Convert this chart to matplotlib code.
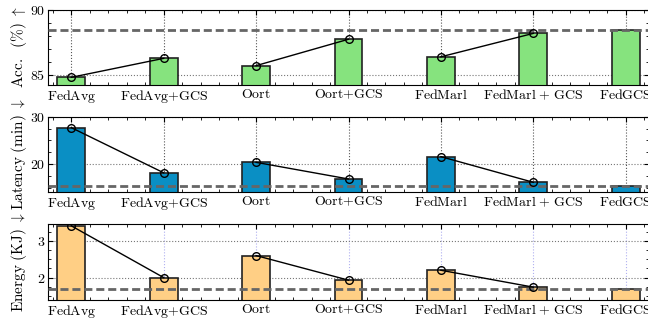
import matplotlib
matplotlib.use("Agg")
import matplotlib.pyplot as plt
from matplotlib.ticker import AutoMinorLocator, MultipleLocator
import numpy as np

plt.rcParams["font.family"] = "serif"
plt.rcParams["font.serif"] = ["cmr10"]
plt.rcParams["mathtext.fontset"] = "cm"
plt.rcParams["axes.formatter.use_mathtext"] = True

methods = ["FedAvg", "FedAvg+GCS", "Oort", "Oort+GCS", "FedMarl", "FedMarl + GCS", "FedGCS"]
acc = [84.82, 86.28, 85.72, 87.75, 86.4, 88.2, 88.46]
latency = [27.7, 18.2, 20.4, 16.9, 21.6, 16.2, 15.44]
energy = [3.41, 2.0, 2.6, 1.93, 2.2, 1.74, 1.70]

# baseline pairs joined by a line (without GCS -> with GCS)
pairs = [(0, 1), (2, 3), (4, 5)]

panels = [
    (acc, r"$\mathrm{Acc.\ \ (\%)}\ \uparrow$", "#86e37e", (84.23, 90), 5, "#555555"),
    (latency, r"$\mathrm{Latency\ (min)}\ \downarrow$", "#0a8fc4", (14.1, 30), 10, "#555555"),
    (energy, r"$\mathrm{Energy\ (KJ)}\ \downarrow$", "#ffcf85", (1.39, 3.46), 1, "#b0b0f0"),
]


def tex(s):
    # render names in computer modern via mathtext
    return r"$\mathrm{%s}$" % s.replace(" + ", r"\ +\ ").replace("+", "{+}")


W, H = 648, 318
fig = plt.figure(figsize=(W / 100, H / 100), dpi=100)
tops = [10, 116.7, 224]
heights = [75, 75.6, 76]
x = np.arange(len(methods))

for (vals, label, color, ylim, ystep, vgrid), top, h in zip(panels, tops, heights):
    ax = fig.add_axes([48.2 / W, 1 - (top + h) / H, 600.6 / W, h / H])
    ax.set_axisbelow(True)
    ax.bar(x, vals, width=0.3, color=color, edgecolor="#222222", linewidth=1.2, zorder=2)
    ax.axhline(vals[-1], color="#666666", lw=2, ls=(0, (2.9, 1.4)), zorder=4)
    for a, b in pairs:
        ax.plot([x[a], x[b]], [vals[a], vals[b]], color="black", lw=1, zorder=5)
    ax.plot(x[:-1], vals[:-1], "o", ms=5.5, mfc="none", mec="black", mew=1.0, zorder=6)
    ax.set_xlim(-0.25, 6.25)
    ax.set_ylim(*ylim)
    ax.set_xticks(x)
    ax.set_xticklabels([tex(m) for m in methods], fontsize=10)
    ax.yaxis.set_major_locator(MultipleLocator(ystep))
    ax.xaxis.set_minor_locator(MultipleLocator(0.2))
    ax.yaxis.set_minor_locator(AutoMinorLocator(5 if ystep == 5 else 4))
    ax.tick_params(which="both", direction="in", top=True, right=True, labelsize=10, pad=2)
    ax.tick_params(which="major", length=3.5)
    ax.tick_params(which="minor", length=2)
    ax.grid(axis="y", which="major", ls=":", color="#777777", lw=0.8)
    ax.grid(axis="x", which="major", ls=":", color=vgrid, lw=0.8)
    ax.set_ylabel(label, fontsize=11, va="center")
    ax.yaxis.set_label_coords(-0.049, 0.5)

fig.savefig("out.png", dpi=100)
